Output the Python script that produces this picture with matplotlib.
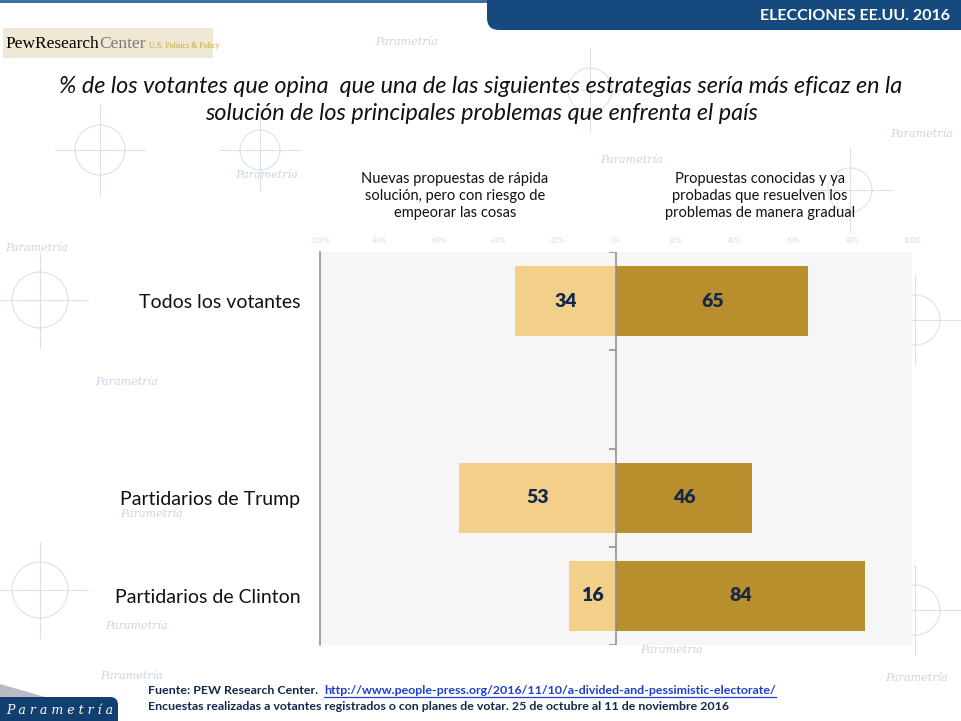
import numpy as np
import matplotlib
matplotlib.use("Agg")
import matplotlib.pyplot as plt
from matplotlib.patches import FancyBboxPatch, Rectangle, Polygon, Circle

plt.rcParams['font.family'] = ['Lato', 'DejaVu Sans']

# data
categorias = ["Todos los votantes", "", "Partidarios de Trump", "Partidarios de Clinton"]
nuevas = [34, np.nan, 53, 16]       # Nuevas propuestas de rápida solución...
probadas = [65, np.nan, 46, 84]     # Propuestas conocidas y ya probadas...
col_nuevas = "Nuevas propuestas de rápida\nsolución, pero con riesgo de\nempeorar las cosas"
col_probadas = "Propuestas conocidas y ya\nprobadas que resuelven los\nproblemas de manera gradual"
ticks_x = [-100, -80, -60, -40, -20, 0, 20, 40, 60, 80, 100]

titulo = ("% de los votantes que opina  que una de las siguientes estrategias sería más eficaz en la\n"
          "solución de los principales problemas que enfrenta el país")
fuente = "Fuente: PEW Research Center.  "
url = "http://www.people-press.org/2016/11/10/a-divided-and-pessimistic-electorate/"
nota = "Encuestas realizadas a votantes registrados o con planes de votar. 25 de octubre al 11 de noviembre 2016"

C_CLARO = "#f2d089"
C_OSCURO = "#b98f2d"
NAVY = "#15274a"
WM = "#c9d5e3"

fig = plt.figure(figsize=(9.61, 7.21), dpi=100)

# background layer in pixel coords
bg = fig.add_axes([0, 0, 1, 1], zorder=-5)
bg.set_xlim(0, 961)
bg.set_ylim(721, 0)
bg.axis("off")

# faint watermark
for (x, y) in [(375, 42), (95, 382), (5, 248), (600, 160), (890, 134),
               (120, 514), (105, 626), (885, 678), (100, 676), (370, 628),
               (640, 650), (235, 175)]:
    bg.text(x, y, "Parametría", fontsize=8, style="italic", color=WM,
            family="DejaVu Serif", ha="left", va="center")
for (x, y, r) in [(40, 300, 28), (40, 590, 28), (915, 320, 25), (915, 610, 25),
                  (100, 150, 25), (260, 150, 20), (590, 90, 22), (850, 190, 22)]:
    bg.add_patch(Circle((x, y), r, fill=False, ec=WM, lw=0.8, alpha=0.7))
    bg.plot([x - r - 20, x + r + 20], [y, y], color=WM, lw=0.8, alpha=0.7)
    bg.plot([x, x], [y - r - 20, y + r + 20], color=WM, lw=0.8, alpha=0.7)

# header
bg.add_patch(Rectangle((0, -2), 961, 5, color="#3d6fa3", lw=0))
bg.add_patch(FancyBboxPatch((487, -30), 520, 60, boxstyle="round,pad=0,rounding_size=12",
                            fc="#164a7e", ec="none"))
bg.text(950, 16, "ELECCIONES EE.UU. 2016", color="white", fontsize=11.5,
        fontweight="bold", ha="right", va="center")

# Pew logo
bg.add_patch(Rectangle((3, 28), 210, 30, fc="#efe8d4", ec="none"))
fig.canvas.draw()
rend = fig.canvas.get_renderer()
t1 = bg.text(5, 44, "PewResearch", family="Liberation Serif", fontsize=12.5,
             color="black", ha="left", va="center")
ext = t1.get_window_extent(rend)
t2 = bg.text(ext.x1 + 0.5, 44, "Center", family="Liberation Serif", fontsize=12.5,
             color="#7a7a7a", ha="left", va="center")
ext2 = t2.get_window_extent(rend)
bg.text(ext2.x1 + 3, 46, "U.S. Politics & Policy", family="Liberation Serif", fontsize=5.8,
        color="#c9a13c", ha="left", va="center")

# title
bg.text(481, 100, titulo, ha="center", va="center", fontsize=16.8, style="italic",
        color="#111111", linespacing=1.32)
bg.text(455, 196, col_nuevas, ha="center", va="center", fontsize=10.5, color="#111111",
        linespacing=1.3)
bg.text(760, 196, col_probadas, ha="center", va="center", fontsize=10.5, color="#111111",
        linespacing=1.3)

# chart
ax = fig.add_axes([320 / 961, 1 - 645 / 721, 592 / 961, 393 / 721])
ax.set_facecolor("#f6f6f6")
y = np.arange(len(categorias))
nv = np.array(nuevas, dtype=float)
pv = np.array(probadas, dtype=float)
ok = ~np.isnan(nv)
ax.barh(y[ok], -nv[ok], height=0.71, color=C_CLARO, zorder=2)
ax.barh(y[ok], pv[ok], height=0.71, color=C_OSCURO, zorder=2)
for yi, a, b in zip(y[ok], nv[ok], pv[ok]):
    ax.text(-a / 2, yi, f"{a:.0f}", ha="center", va="center", fontsize=14,
            fontweight="heavy", color=NAVY, zorder=3)
    ax.text(b / 2, yi, f"{b:.0f}", ha="center", va="center", fontsize=14,
            fontweight="heavy", color=NAVY, zorder=3)

ax.set_xlim(-100, 100)
ax.set_ylim(len(categorias) - 0.5, -0.5)
ax.axvline(0, color="#8a8a8a", lw=1.1, zorder=4)
bounds = np.arange(-0.5, len(categorias), 1.0)
ax.hlines(bounds, -2.5, 0, color="#8a8a8a", lw=1.1, zorder=4)

ax.set_yticks(y, categorias)
ax.tick_params(axis="y", length=0, pad=14, labelsize=14, labelcolor="#111111")
ax.xaxis.tick_top()
ax.set_xticks(ticks_x, [f"{t}%" for t in ticks_x])
ax.tick_params(axis="x", length=0, pad=6, labelsize=5, labelcolor="#d5dde6")
for s in ["top", "right", "bottom"]:
    ax.spines[s].set_visible(False)
ax.spines["left"].set_color("#8a8a8a")
ax.spines["left"].set_linewidth(1.1)

# footer
f1 = bg.text(148, 690, fuente, fontsize=8.9, fontweight="bold", color=NAVY,
             ha="left", va="center")
e1 = f1.get_window_extent(rend)
f2 = bg.text(e1.x1, 690, url, fontsize=8.9, fontweight="bold", color="#1f3fcc",
             ha="left", va="center")
e2 = f2.get_window_extent(rend)
bg.plot([e2.x0, e2.x1], [697, 697], color="#1f3fcc", lw=0.9)
bg.text(148, 707, nota, fontsize=8.9, fontweight="bold", color=NAVY, ha="left", va="center")

# Parametria badge
bg.add_patch(Polygon([(0, 684), (45, 697), (0, 697)], closed=True, fc="#b8bcc2", ec="none"))
bg.add_patch(FancyBboxPatch((-20, 697), 138, 40, boxstyle="round,pad=0,rounding_size=8",
                            fc="#123f6d", ec="none"))
bg.text(60, 710, "P a r a m e t r í a", family="DejaVu Serif", style="italic",
        fontsize=9, color="white", ha="center", va="center")

fig.savefig("out.png", dpi=100)
